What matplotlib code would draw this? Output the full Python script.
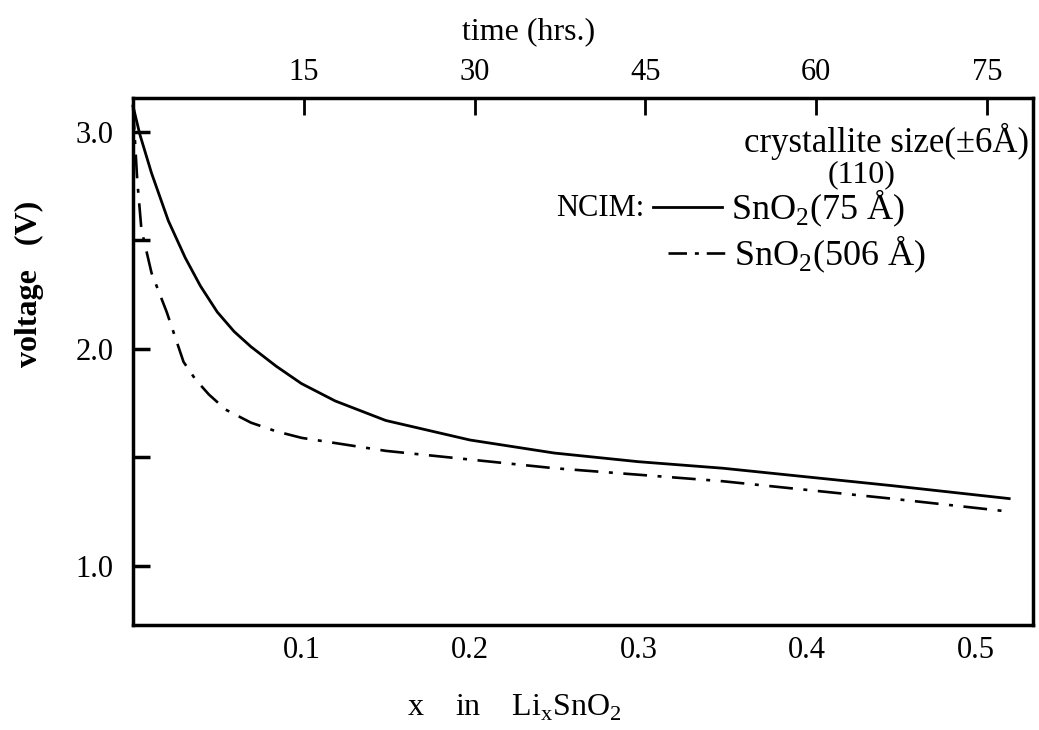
import matplotlib
matplotlib.use("Agg")
import matplotlib.pyplot as plt
from matplotlib.lines import Line2D

plt.rcParams["font.family"] = ["Liberation Serif", "DejaVu Serif"]
plt.rcParams["mathtext.fontset"] = "custom"
plt.rcParams["mathtext.rm"] = "Liberation Serif"

# SnO2 (75 A) - solid line
x_75 = [0.0, 0.004, 0.011, 0.021, 0.031, 0.04, 0.05, 0.06, 0.07, 0.085,
        0.1, 0.12, 0.15, 0.2, 0.25, 0.3, 0.35, 0.4, 0.45, 0.52]
v_75 = [3.12, 2.99, 2.81, 2.59, 2.42, 2.29, 2.17, 2.08, 2.01, 1.92,
        1.84, 1.76, 1.67, 1.58, 1.52, 1.48, 1.45, 1.41, 1.37, 1.31]

# SnO2 (506 A) - dash-dot line
x_506 = [0.0, 0.0025, 0.005, 0.011, 0.02, 0.03, 0.037, 0.045, 0.055, 0.07,
         0.085, 0.1, 0.15, 0.2, 0.25, 0.3, 0.35, 0.4, 0.45, 0.52]
v_506 = [3.12, 2.78, 2.55, 2.35, 2.17, 1.94, 1.86, 1.79, 1.72, 1.66,
         1.62, 1.59, 1.53, 1.49, 1.45, 1.42, 1.39, 1.35, 1.31, 1.25]

x_ticks = [0.1, 0.2, 0.3, 0.4, 0.5]
y_ticks = [1.0, 1.5, 2.0, 2.5, 3.0]
y_labels = ["1.0", "", "2.0", "", "3.0"]
t_ticks = [15, 30, 45, 60, 75]
hrs_per_x = 148.0

fig = plt.figure(figsize=(10.39, 7.3), dpi=100)
ax = fig.add_axes([0.128, 0.144, 0.866, 0.722])

ax.plot(x_75, v_75, color="black", lw=2.0, clip_on=False)
ax.plot(x_506, v_506, color="black", lw=1.9, linestyle=(0, (9, 4, 1.5, 4)), clip_on=False)

ax.set_xlim(0, 0.534)
ax.set_ylim(0.728, 3.157)

ax.set_xticks(x_ticks)
ax.set_xticklabels([f"{v:.1f}" for v in x_ticks])
ax.set_yticks(y_ticks)
ax.set_yticklabels(y_labels)
ax.tick_params(axis="x", length=0, labelsize=22, pad=8)
ax.tick_params(axis="y", direction="in", length=12, width=2.5, labelsize=22, pad=14)
for s in ax.spines.values():
    s.set_linewidth(2.5)

ax.set_ylabel("voltage   (V)", fontsize=23, fontweight="bold")
ax.yaxis.set_label_coords(-0.099, 0.647)
ax.set_xlabel(r"x    in    Li$_\mathregular{x}$SnO$_\mathregular{2}$", fontsize=23)
ax.xaxis.set_label_coords(0.424, -0.128)

top = ax.secondary_xaxis("top", functions=(lambda x: x * hrs_per_x, lambda t: t / hrs_per_x))
top.set_xticks(t_ticks)
top.tick_params(direction="in", length=12, width=2, labelsize=22, pad=8)
ax.text(0.44, 1.125, "time (hrs.)", transform=ax.transAxes, ha="center", va="center", fontsize=23)

# legend text block
ax.text(0.996, 0.918, "crystallite size(\u00b16\u00c5)", transform=ax.transAxes,
        ha="right", va="center", fontsize=25)
ax.text(0.81, 0.855, "(110)", transform=ax.transAxes, ha="center", va="center", fontsize=23)
ax.text(0.568, 0.79, "NCIM:", transform=ax.transAxes, ha="right", va="center", fontsize=22)
ax.add_line(Line2D([0.578, 0.655], [0.793, 0.793], transform=ax.transAxes, color="black", lw=2))
ax.text(0.665, 0.79, "SnO$_\\mathregular{2}$(75 \u00c5)",
        transform=ax.transAxes, ha="left", va="center", fontsize=26)
ax.add_line(Line2D([0.595, 0.658], [0.706, 0.706], transform=ax.transAxes, color="black", lw=1.9,
                   linestyle=(0, (7, 3, 1.5, 3))))
ax.text(0.668, 0.704, "SnO$_\\mathregular{2}$(506 \u00c5)",
        transform=ax.transAxes, ha="left", va="center", fontsize=26)

fig.savefig("out.png", dpi=100)
